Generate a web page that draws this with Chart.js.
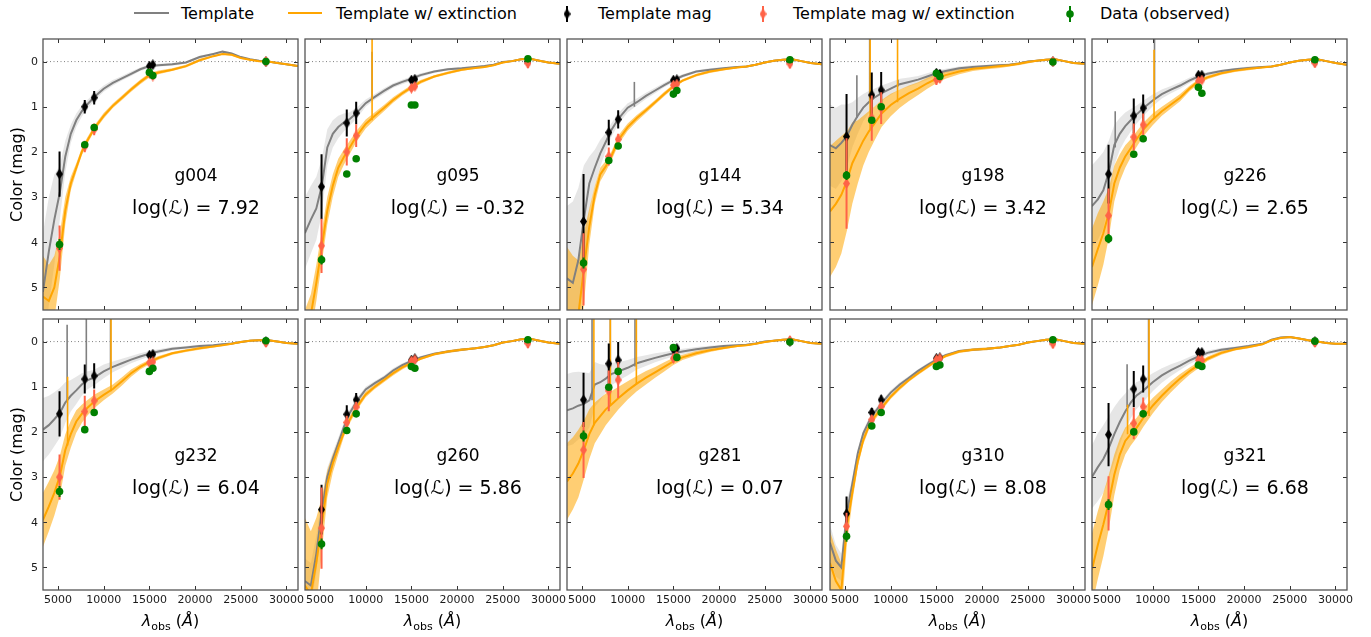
<!DOCTYPE html>
<html lang="en">
<head>
<meta charset="UTF-8">
<title>Template colour fits</title>
<script src="https://cdn.jsdelivr.net/npm/chart.js"></script>
<style>
  body { margin: 0; background: #fff; font-family: "DejaVu Sans", sans-serif; }
  #page { position: relative; width: 1371px; height: 637px; overflow: hidden; }
  #page canvas.panel { position: absolute; }
  .lg-line { position: absolute; top: 12px; height: 2px; }
  .lg-mark { position: absolute; top: 3px; width: 12px; height: 20px; }
  .lg-text { position: absolute; top: 13px; transform: translateY(-50%); font-size: 16px; color: #000; white-space: nowrap; }
</style>
</head>
<body>
<div id="page">
  <div class="lg-line" style="left:134px; width:35px; background:gray"></div>
  <span class="lg-text" style="left:181px">Template</span>
  <div class="lg-line" style="left:288px; width:34px; background:orange"></div>
  <span class="lg-text" style="left:336px">Template w/ extinction</span>
  <canvas class="lg-mark" id="lgBlack" width="12" height="20" style="left:561px"></canvas>
  <span class="lg-text" style="left:598px">Template mag</span>
  <canvas class="lg-mark" id="lgRed" width="12" height="20" style="left:757px"></canvas>
  <span class="lg-text" style="left:793px">Template mag w/ extinction</span>
  <canvas class="lg-mark" id="lgGreen" width="12" height="20" style="left:1064px"></canvas>
  <span class="lg-text" style="left:1100px">Data (observed)</span>
</div>

<script>
// ---- data ----
const NAMES = ['g004', 'g095', 'g144', 'g198', 'g226', 'g232', 'g260', 'g281', 'g310', 'g321'];
const LOG_L = [7.92, -0.32, 5.34, 3.42, 2.65, 6.04, 5.86, 0.07, 8.08, 6.68];

const X_MIN = 3360, X_MAX = 31260;
const Y_MIN = -0.5, Y_MAX = 5.5;
const X_TICKS = [5000, 10000, 15000, 20000, 25000, 30000];
const Y_TICKS = [0, 1, 2, 3, 4, 5];

// wavelength grid of the template spectra
const SPEC_WAVE = [3350, 4000, 4600, 5200, 5800, 6400, 7000, 7600, 8200, 9000, 10000, 11000, 12000, 13000, 14000,
                   15000, 16000, 17500, 19000, 20500, 22000, 23000, 24000, 25000, 26000, 27000, 28000, 29000, 30000, 31250];

const TEMPLATE_SPEC = [
  [5.1, 4.2, 3.5, 2.9, 2.1, 1.6, 1.3, 1.1, 0.95, 0.78, 0.6, 0.47, 0.37, 0.27, 0.17, 0.1, 0.08, 0.06, 0.02, -0.1, -0.17, -0.22, -0.18, -0.1, -0.05, -0.02, 0, 0.03, 0.06, 0.1],
  [3.8, 3.5, 3.25, 2.75, 1.9, 1.6, 1.45, 1.35, 1.28, 1.14, 0.92, 0.78, 0.65, 0.53, 0.45, 0.38, 0.3, 0.22, 0.17, 0.15, 0.12, 0.1, 0.07, 0.01, -0.01, -0.05, -0.06, -0.02, 0.02, 0.05],
  [4.8, 4.9, 4.4, 3.5, 2.7, 2.35, 2.03, 1.78, 1.52, 1.26, 1.02, 0.9, 0.76, 0.64, 0.52, 0.41, 0.32, 0.22, 0.18, 0.15, 0.12, 0.11, 0.07, 0.02, -0.02, -0.04, -0.05, -0.01, 0.03, 0.06],
  [1.85, 1.92, 1.8, 1.65, 1.4, 1.2, 1.02, 0.9, 0.8, 0.7, 0.6, 0.5, 0.45, 0.4, 0.33, 0.26, 0.21, 0.15, 0.12, 0.1, 0.08, 0.07, 0.04, 0.0, -0.02, -0.04, -0.05, -0.01, 0.03, 0.05],
  [3.2, 3.05, 2.85, 2.45, 1.85, 1.6, 1.43, 1.3, 1.18, 1.03, 0.86, 0.72, 0.62, 0.53, 0.42, 0.33, 0.27, 0.21, 0.17, 0.14, 0.12, 0.11, 0.07, 0.02, -0.02, -0.04, -0.05, -0.01, 0.03, 0.07],
  [1.95, 1.85, 1.72, 1.58, 1.35, 1.2, 1.08, 0.95, 0.86, 0.79, 0.66, 0.56, 0.48, 0.4, 0.33, 0.27, 0.22, 0.16, 0.13, 0.1, 0.08, 0.06, 0.04, 0.01, -0.02, -0.03, -0.03, 0.0, 0.03, 0.05],
  [5.3, 5.4, 4.7, 3.75, 3.0, 2.6, 2.25, 1.9, 1.6, 1.33, 1.06, 0.92, 0.8, 0.64, 0.52, 0.43, 0.35, 0.27, 0.22, 0.18, 0.15, 0.12, 0.08, 0.02, -0.01, -0.05, -0.06, -0.02, 0.02, 0.05],
  [1.52, 1.48, 1.42, 1.38, 1.3, 0.95, 0.9, 0.82, 0.72, 0.66, 0.58, 0.48, 0.42, 0.36, 0.31, 0.26, 0.22, 0.17, 0.13, 0.1, 0.08, 0.07, 0.04, 0.0, -0.02, -0.04, -0.05, -0.01, 0.03, 0.05],
  [4.45, 4.85, 5.0, 3.8, 3.15, 2.47, 2.03, 1.78, 1.58, 1.37, 1.13, 0.95, 0.8, 0.65, 0.52, 0.4, 0.3, 0.21, 0.18, 0.16, 0.13, 0.1, 0.07, 0.02, -0.01, -0.04, -0.05, -0.01, 0.03, 0.05],
  [3.0, 2.78, 2.6, 2.35, 2.05, 1.78, 1.55, 1.35, 1.2, 1.08, 0.9, 0.75, 0.63, 0.53, 0.42, 0.33, 0.25, 0.18, 0.14, 0.1, 0.05, -0.04, -0.09, -0.1, -0.07, -0.03, 0.0, 0.03, 0.05, 0.05]
];
// half width of the template uncertainty band
const TEMPLATE_BAND = [
  [1.3, 1.2, 1.0, 0.6, 0.35, 0.2, 0.15, 0.12, 0.1, 0.08, 0.07, 0.06, 0.05, 0.05, 0.04, 0.04, 0.03, 0.03, 0.03, 0.03, 0.02, 0.02, 0.02, 0.02, 0.02, 0.02, 0.02, 0.02, 0.02, 0.02],
  [0.8, 0.75, 0.7, 0.6, 0.4, 0.3, 0.25, 0.2, 0.15, 0.12, 0.08, 0.06, 0.06, 0.05, 0.05, 0.05, 0.04, 0.03, 0.03, 0.03, 0.02, 0.02, 0.02, 0.02, 0.02, 0.02, 0.02, 0.02, 0.02, 0.02],
  [1.6, 1.8, 1.6, 1.2, 0.6, 0.4, 0.3, 0.2, 0.15, 0.12, 0.1, 0.08, 0.07, 0.06, 0.05, 0.05, 0.04, 0.03, 0.03, 0.03, 0.02, 0.02, 0.02, 0.02, 0.02, 0.02, 0.02, 0.02, 0.02, 0.02],
  [0.9, 0.9, 0.85, 0.7, 0.5, 0.4, 0.3, 0.25, 0.2, 0.17, 0.14, 0.12, 0.1, 0.08, 0.07, 0.06, 0.05, 0.04, 0.04, 0.03, 0.03, 0.03, 0.02, 0.02, 0.02, 0.02, 0.02, 0.02, 0.02, 0.02],
  [0.9, 0.9, 0.85, 0.7, 0.45, 0.35, 0.3, 0.25, 0.2, 0.17, 0.13, 0.1, 0.08, 0.07, 0.06, 0.05, 0.04, 0.03, 0.03, 0.03, 0.02, 0.02, 0.02, 0.02, 0.02, 0.02, 0.02, 0.02, 0.02, 0.02],
  [0.7, 0.65, 0.6, 0.55, 0.45, 0.35, 0.3, 0.25, 0.2, 0.17, 0.15, 0.12, 0.1, 0.08, 0.07, 0.06, 0.05, 0.04, 0.03, 0.03, 0.02, 0.02, 0.02, 0.02, 0.02, 0.02, 0.02, 0.02, 0.02, 0.02],
  [0.5, 0.5, 0.4, 0.3, 0.2, 0.15, 0.12, 0.1, 0.08, 0.07, 0.06, 0.05, 0.05, 0.05, 0.04, 0.04, 0.03, 0.03, 0.03, 0.03, 0.02, 0.02, 0.02, 0.02, 0.02, 0.02, 0.02, 0.02, 0.02, 0.02],
  [0.8, 0.8, 0.75, 0.7, 0.6, 0.5, 0.4, 0.3, 0.25, 0.2, 0.17, 0.14, 0.12, 0.1, 0.08, 0.07, 0.06, 0.05, 0.04, 0.03, 0.02, 0.02, 0.02, 0.02, 0.02, 0.02, 0.02, 0.02, 0.02, 0.02],
  [0.4, 0.35, 0.3, 0.25, 0.15, 0.1, 0.08, 0.07, 0.06, 0.06, 0.05, 0.05, 0.04, 0.04, 0.04, 0.03, 0.03, 0.03, 0.03, 0.03, 0.02, 0.02, 0.02, 0.02, 0.02, 0.02, 0.02, 0.02, 0.02, 0.02],
  [0.7, 0.75, 0.75, 0.7, 0.6, 0.5, 0.4, 0.35, 0.3, 0.25, 0.2, 0.16, 0.13, 0.1, 0.08, 0.07, 0.05, 0.04, 0.03, 0.03, 0.02, 0.02, 0.02, 0.02, 0.02, 0.02, 0.02, 0.02, 0.02, 0.02]
];

const EXT_SPEC = [
  [5.2, 5.3, 5.0, 4.3, 3.3, 2.7, 2.35, 2.0, 1.75, 1.47, 1.2, 0.98, 0.8, 0.62, 0.45, 0.3, 0.24, 0.18, 0.1, -0.03, -0.12, -0.17, -0.15, -0.08, -0.04, -0.01, 0, 0.03, 0.06, 0.1],
  [6.0, 5.6, 4.9, 4.1, 3.3, 2.75, 2.35, 2.12, 1.92, 1.65, 1.38, 1.2, 1.03, 0.85, 0.7, 0.57, 0.45, 0.33, 0.25, 0.18, 0.14, 0.12, 0.08, 0.02, -0.01, -0.05, -0.06, -0.02, 0.02, 0.05],
  [5.6, 5.7, 5.6, 4.6, 3.65, 2.95, 2.5, 2.32, 2.1, 1.73, 1.45, 1.25, 1.08, 0.9, 0.72, 0.55, 0.42, 0.3, 0.22, 0.17, 0.13, 0.11, 0.07, 0.02, -0.02, -0.04, -0.05, -0.01, 0.03, 0.06],
  [3.32, 3.15, 2.95, 2.65, 2.25, 2.0, 1.75, 1.55, 1.38, 1.15, 0.96, 0.82, 0.7, 0.6, 0.48, 0.38, 0.3, 0.22, 0.16, 0.13, 0.1, 0.08, 0.05, 0.01, -0.02, -0.04, -0.05, -0.01, 0.03, 0.05],
  [4.55, 4.15, 3.8, 3.35, 2.7, 2.35, 2.1, 1.92, 1.73, 1.5, 1.28, 1.1, 0.95, 0.8, 0.6, 0.44, 0.35, 0.26, 0.2, 0.16, 0.13, 0.11, 0.07, 0.02, -0.02, -0.04, -0.05, -0.01, 0.03, 0.07],
  [3.95, 3.65, 3.35, 2.98, 2.4, 2.05, 1.77, 1.6, 1.47, 1.32, 1.18, 1.05, 0.88, 0.7, 0.56, 0.45, 0.36, 0.26, 0.2, 0.15, 0.11, 0.08, 0.05, 0.01, -0.02, -0.03, -0.03, 0.0, 0.03, 0.05],
  [5.4, 5.6, 4.9, 4.05, 3.15, 2.7, 2.35, 2.02, 1.75, 1.46, 1.17, 1.0, 0.85, 0.7, 0.57, 0.47, 0.38, 0.28, 0.22, 0.18, 0.15, 0.12, 0.08, 0.02, -0.01, -0.05, -0.06, -0.02, 0.02, 0.05],
  [3.1, 2.92, 2.7, 2.4, 2.05, 1.8, 1.65, 1.5, 1.4, 1.25, 1.08, 0.93, 0.8, 0.68, 0.56, 0.44, 0.35, 0.26, 0.19, 0.14, 0.1, 0.08, 0.05, 0.01, -0.02, -0.04, -0.05, -0.01, 0.03, 0.05],
  [4.9, 5.3, 5.5, 4.1, 3.35, 2.65, 2.18, 1.88, 1.68, 1.47, 1.22, 1.02, 0.85, 0.7, 0.56, 0.43, 0.32, 0.22, 0.18, 0.16, 0.13, 0.1, 0.07, 0.02, -0.01, -0.04, -0.05, -0.01, 0.03, 0.05],
  [5.05, 4.5, 4.05, 3.55, 2.95, 2.5, 2.2, 2.05, 1.92, 1.68, 1.42, 1.2, 1.0, 0.82, 0.66, 0.52, 0.38, 0.25, 0.17, 0.12, 0.06, -0.03, -0.08, -0.1, -0.07, -0.03, 0.0, 0.03, 0.05, 0.05]
];
const EXT_BAND = [
  [0.9, 0.8, 0.7, 0.5, 0.3, 0.15, 0.1, 0.08, 0.07, 0.06, 0.06, 0.05, 0.05, 0.05, 0.05, 0.05, 0.04, 0.03, 0.03, 0.03, 0.02, 0.02, 0.02, 0.02, 0.02, 0.02, 0.02, 0.02, 0.02, 0.02],
  [0.5, 0.45, 0.4, 0.35, 0.3, 0.25, 0.2, 0.17, 0.15, 0.12, 0.1, 0.08, 0.07, 0.06, 0.05, 0.05, 0.04, 0.03, 0.03, 0.03, 0.02, 0.02, 0.02, 0.02, 0.02, 0.02, 0.02, 0.02, 0.02, 0.02],
  [1.5, 1.4, 1.2, 0.8, 0.4, 0.2, 0.15, 0.12, 0.1, 0.1, 0.08, 0.07, 0.06, 0.05, 0.05, 0.04, 0.03, 0.03, 0.03, 0.03, 0.02, 0.02, 0.02, 0.02, 0.02, 0.02, 0.02, 0.02, 0.02, 0.02],
  [1.45, 1.4, 1.3, 1.1, 0.9, 0.7, 0.55, 0.45, 0.38, 0.3, 0.25, 0.2, 0.17, 0.14, 0.12, 0.1, 0.08, 0.06, 0.05, 0.04, 0.04, 0.03, 0.03, 0.03, 0.02, 0.02, 0.02, 0.02, 0.02, 0.02],
  [0.85, 0.8, 0.7, 0.55, 0.4, 0.3, 0.25, 0.2, 0.17, 0.15, 0.13, 0.1, 0.09, 0.08, 0.06, 0.05, 0.04, 0.03, 0.03, 0.03, 0.02, 0.02, 0.02, 0.02, 0.02, 0.02, 0.02, 0.02, 0.02, 0.02],
  [0.6, 0.55, 0.5, 0.45, 0.35, 0.3, 0.25, 0.2, 0.17, 0.15, 0.12, 0.1, 0.09, 0.08, 0.06, 0.05, 0.04, 0.03, 0.03, 0.03, 0.02, 0.02, 0.02, 0.02, 0.02, 0.02, 0.02, 0.02, 0.02, 0.02],
  [1.5, 1.4, 1.0, 0.6, 0.3, 0.2, 0.15, 0.1, 0.08, 0.07, 0.06, 0.05, 0.05, 0.05, 0.05, 0.04, 0.03, 0.03, 0.03, 0.03, 0.02, 0.02, 0.02, 0.02, 0.02, 0.02, 0.02, 0.02, 0.02, 0.02],
  [0.85, 0.8, 0.75, 0.65, 0.55, 0.45, 0.4, 0.35, 0.3, 0.25, 0.2, 0.17, 0.15, 0.12, 0.1, 0.08, 0.06, 0.05, 0.04, 0.03, 0.02, 0.02, 0.02, 0.02, 0.02, 0.02, 0.02, 0.02, 0.02, 0.02],
  [0.7, 0.7, 0.6, 0.4, 0.2, 0.12, 0.1, 0.08, 0.07, 0.06, 0.05, 0.05, 0.04, 0.04, 0.04, 0.03, 0.03, 0.03, 0.03, 0.03, 0.02, 0.02, 0.02, 0.02, 0.02, 0.02, 0.02, 0.02, 0.02, 0.02],
  [0.8, 0.75, 0.7, 0.6, 0.45, 0.35, 0.3, 0.25, 0.22, 0.2, 0.17, 0.14, 0.12, 0.1, 0.08, 0.07, 0.05, 0.04, 0.03, 0.03, 0.02, 0.02, 0.02, 0.02, 0.02, 0.02, 0.02, 0.02, 0.02, 0.02]
];

// emission lines: [wavelength, from mag, to mag]
const TEMPLATE_LINES = [
  [], [[10700, 0.85, -0.22]], [[10730, 1.0, 0.45]],
  [[6300, 1.25, 0.3], [7700, 0.9, -0.5], [10800, 0.55, 0.4]],
  [[5900, 1.9, 1.1], [10200, 0.82, -0.5]],
  [[6000, 1.3, -0.37], [8100, 0.9, -0.5], [10750, 0.6, -0.5]],
  [],
  [[6100, 1.3, -0.5], [8100, 0.72, -0.5], [10800, 0.55, -0.5]],
  [],
  [[7200, 1.45, 0.5], [9550, 1.0, -0.5]]
];
const EXT_LINES = [
  [], [[10700, 1.3, -0.5]], [],
  [[7750, 1.5, -0.5], [10750, 0.9, -0.5]],
  [[10150, 1.27, -0.26]],
  [[6050, 2.3, 0.78], [10800, 1.1, -0.5]],
  [],
  [[6300, 1.85, -0.5], [8100, 1.4, -0.5], [10950, 0.95, -0.5]],
  [],
  [[7250, 2.05, 1.4], [9600, 1.65, -0.5]]
];

// photometric bands
const FILTER_WAVE = [5170, 7930, 8960, 15000, 15380, 27750];

const TEMPLATE_MAG = [
  [2.49, 1.0, 0.8, 0.1, 0.07, 0], [2.77, 1.36, 1.14, 0.41, 0.39, 0], [3.54, 1.57, 1.28, 0.41, 0.4, 0],
  [1.66, 0.74, 0.63, 0.26, 0.28, 0], [2.49, 1.2, 1.03, 0.3, 0.3, 0], [1.6, 0.83, 0.76, 0.3, 0.28, 0],
  [3.72, 1.61, 1.29, 0.41, 0.38, 0], [1.29, 0.49, 0.41, 0.17, 0.15, 0], [3.81, 1.57, 1.29, 0.37, 0.36, 0],
  [2.06, 1.05, 0.83, 0.24, 0.24, 0]
];
const TEMPLATE_MAG_ERR = [
  [0.5, 0.15, 0.15, 0.07, 0.07, 0], [0.72, 0.3, 0.25, 0.05, 0.05, 0], [1.05, 0.28, 0.2, 0.05, 0.05, 0],
  [0.94, 0.5, 0.4, 0.1, 0.1, 0], [0.65, 0.38, 0.3, 0.06, 0.06, 0], [0.5, 0.32, 0.28, 0.06, 0.06, 0],
  [0.55, 0.2, 0.15, 0.05, 0.05, 0], [0.6, 0.45, 0.4, 0.05, 0.05, 0], [0.38, 0.1, 0.1, 0.04, 0.04, 0],
  [0.7, 0.4, 0.3, 0.07, 0.07, 0]
];
const EXT_MAG = [
  [4.13, 1.88, 1.5, 0.26, 0.32, 0], [4.08, 2.0, 1.64, 0.59, 0.55, 0.04], [4.6, 2.1, 1.72, 0.52, 0.5, 0.05],
  [2.7, 1.25, 1.03, 0.4, 0.37, 0], [3.41, 1.67, 1.4, 0.43, 0.41, 0.03], [3.0, 1.55, 1.31, 0.47, 0.45, 0.02],
  [4.13, 1.79, 1.45, 0.43, 0.4, 0.04], [2.4, 1.09, 0.85, 0.37, 0.33, -0.02], [4.09, 1.73, 1.44, 0.4, 0.37, 0.05],
  [3.58, 1.81, 1.44, 0.41, 0.41, 0.02]
];
const EXT_MAG_ERR = [
  [0.5, 0.13, 0.13, 0.07, 0.07, 0.1], [0.6, 0.3, 0.25, 0.05, 0.05, 0.1], [0.8, 0.2, 0.12, 0.05, 0.05, 0.1],
  [1.0, 0.5, 0.35, 0.12, 0.1, 0.1], [0.6, 0.3, 0.25, 0.06, 0.06, 0.1], [0.5, 0.35, 0.25, 0.06, 0.06, 0.1],
  [0.9, 0.15, 0.12, 0.06, 0.06, 0.1], [0.62, 0.45, 0.4, 0.1, 0.1, 0.1], [0.3, 0.1, 0.1, 0.04, 0.04, 0.1],
  [0.6, 0.35, 0.2, 0.06, 0.06, 0.1]
];
const OBS_MAG = [
  [4.05, 1.84, 1.46, 0.24, 0.31, 0], [4.39, 2.49, 2.15, 0.96, 0.96, -0.06], [4.46, 2.19, 1.87, 0.72, 0.64, -0.04],
  [2.52, 1.3, 1.0, 0.26, 0.33, 0.01], [3.92, 2.05, 1.71, 0.57, 0.7, -0.04], [3.32, 1.95, 1.57, 0.66, 0.59, -0.02],
  [4.48, 1.97, 1.6, 0.55, 0.59, -0.04], [2.09, 1.01, 0.66, 0.13, 0.35, 0.01], [4.31, 1.87, 1.57, 0.55, 0.52, -0.04],
  [3.61, 2.0, 1.6, 0.52, 0.55, -0.01]
];
const OBS_MAG_ERR = [
  [0.12, 0.05, 0.05, 0.03, 0.03, 0.05], [0.1, 0.04, 0.04, 0.03, 0.03, 0.05], [0.12, 0.05, 0.05, 0.03, 0.03, 0.05],
  [0.1, 0.05, 0.05, 0.03, 0.03, 0.05], [0.1, 0.04, 0.04, 0.03, 0.03, 0.05], [0.12, 0.05, 0.05, 0.03, 0.03, 0.05],
  [0.12, 0.05, 0.05, 0.03, 0.03, 0.05], [0.12, 0.05, 0.05, 0.03, 0.03, 0.05], [0.12, 0.05, 0.05, 0.03, 0.03, 0.05],
  [0.12, 0.05, 0.05, 0.03, 0.03, 0.05]
];

// ---- layout ----
const PANEL_LEFT = [43, 305, 567, 830, 1092];
const PANEL_TOP = [39, 319];
const PANEL_W = 255, PANEL_H = 271;
const PAD_L = 48, PAD_T = 8, PAD_R = 10, PAD_B = 46;
const FONT = '"DejaVu Sans"';

const GRAY = '#808080', ORANGE = '#ffa500', RED = 'tomato', GREEN = '#008000';

Chart.defaults.font.family = FONT;

function diamond(color) {
  const c = document.createElement('canvas');
  c.width = 7; c.height = 11;
  const g = c.getContext('2d');
  g.fillStyle = color;
  g.beginPath();
  g.moveTo(3.5, 0); g.lineTo(7, 5.5); g.lineTo(3.5, 11); g.lineTo(0, 5.5);
  g.closePath(); g.fill();
  return c;
}
const BLACK_DIAMOND = diamond('#000');
const RED_DIAMOND = diamond(RED);

// legend symbols
function legendMark(id, color, shape) {
  const g = document.getElementById(id).getContext('2d');
  g.strokeStyle = color; g.lineWidth = 2;
  g.beginPath(); g.moveTo(6, 3); g.lineTo(6, 19); g.stroke();
  if (shape) g.drawImage(shape, 2.5, 5.5);
  else { g.fillStyle = color; g.beginPath(); g.arc(6, 11, 3.8, 0, Math.PI * 2); g.fill(); }
}
legendMark('lgBlack', '#000', BLACK_DIAMOND);
legendMark('lgRed', RED, RED_DIAMOND);
legendMark('lgGreen', GREEN, null);

const curve = (ys, hw, s) => SPEC_WAVE.map((w, k) => ({ x: w, y: ys[k] + s * (hw ? hw[k] : 0) }));
const segments = list => list.flatMap(([w, a, b]) => [{ x: w, y: a }, { x: w, y: b }, { x: w, y: null }]);
const errorBars = (m, e) => FILTER_WAVE.flatMap((w, k) => [{ x: w, y: m[k] - e[k] }, { x: w, y: m[k] + e[k] }, { x: w, y: null }]);
const points = m => FILTER_WAVE.map((w, k) => ({ x: w, y: m[k] }));

const base = { pointRadius: 0, tension: 0, spanGaps: false, fill: false };

// frame, inward ticks on all four sides, tick labels on the outer panels
const framePlugin = {
  id: 'frame',
  afterDatasetsDraw(chart, args, o) {
    const { ctx, chartArea: a, scales: { x, y } } = chart;
    ctx.save();
    ctx.strokeStyle = '#333';
    ctx.lineWidth = 1;
    ctx.beginPath();
    X_TICKS.forEach(v => {
      const px = Math.round(x.getPixelForValue(v)) + 0.5;
      ctx.moveTo(px, a.bottom); ctx.lineTo(px, a.bottom - 4);
      ctx.moveTo(px, a.top); ctx.lineTo(px, a.top + 4);
    });
    Y_TICKS.forEach(v => {
      const py = Math.round(y.getPixelForValue(v)) + 0.5;
      ctx.moveTo(a.left, py); ctx.lineTo(a.left + 4, py);
      ctx.moveTo(a.right, py); ctx.lineTo(a.right - 4, py);
    });
    ctx.stroke();
    ctx.strokeStyle = '#555';
    ctx.lineWidth = 1.3;
    ctx.strokeRect(a.left, a.top, a.right - a.left, a.bottom - a.top);

    ctx.fillStyle = '#1a1a1a';
    ctx.font = '11px ' + FONT;
    if (o.xLabels) {
      ctx.textAlign = 'center';
      ctx.textBaseline = 'top';
      X_TICKS.forEach(v => ctx.fillText(String(v), x.getPixelForValue(v), a.bottom + 5));
    }
    if (o.yLabels) {
      ctx.textAlign = 'right';
      ctx.textBaseline = 'middle';
      Y_TICKS.forEach(v => ctx.fillText(String(v), a.left - 5, y.getPixelForValue(v) + 0.5));
    }
    ctx.restore();
  }
};

// panel name, likelihood and axis titles
const textPlugin = {
  id: 'panelText',
  afterDraw(chart, args, o) {
    const { ctx, chartArea: a } = chart;
    const w = a.right - a.left, h = a.bottom - a.top;
    const cx = a.left + 0.6 * w;
    ctx.save();
    ctx.fillStyle = '#000';
    ctx.textAlign = 'center';
    ctx.textBaseline = 'middle';
    ctx.font = '17px ' + FONT;
    ctx.fillText(o.name, cx, a.top + 0.508 * h);
    ctx.font = '19px ' + FONT;
    ctx.fillText('log(\u2112) = ' + o.logL.toFixed(2), cx, a.top + 0.627 * h);

    if (o.yTitle) {
      ctx.save();
      ctx.translate(a.left - 25, a.top + h / 2);
      ctx.rotate(-Math.PI / 2);
      ctx.font = '16px ' + FONT;
      ctx.fillText('Color (mag)', 0, 0);
      ctx.restore();
    }
    if (o.xTitle) {
      const parts = [
        ['\u03bb', 'italic 16px ' + FONT, 0],
        ['obs', '11px ' + FONT, 4],
        [' (', '16px ' + FONT, 0],
        ['\u00c5', 'italic 16px ' + FONT, 0],
        [')', '16px ' + FONT, 0]
      ];
      let total = 0;
      parts.forEach(p => { ctx.font = p[1]; p.push(ctx.measureText(p[0]).width); total += p[3]; });
      let px = a.left + w / 2 - total / 2;
      const baseY = a.bottom + 36;
      ctx.textAlign = 'left';
      ctx.textBaseline = 'alphabetic';
      parts.forEach(p => { ctx.font = p[1]; ctx.fillText(p[0], px, baseY + p[2]); px += p[3]; });
    }
    ctx.restore();
  }
};

const page = document.getElementById('page');

NAMES.forEach((name, i) => {
  const col = i % 5, row = Math.floor(i / 5);
  const canvas = document.createElement('canvas');
  canvas.className = 'panel';
  canvas.width = PAD_L + PANEL_W + PAD_R;
  canvas.height = PAD_T + PANEL_H + PAD_B;
  canvas.style.left = (PANEL_LEFT[col] - PAD_L) + 'px';
  canvas.style.top = (PANEL_TOP[row] - PAD_T) + 'px';
  page.appendChild(canvas);

  const datasets = [
    { ...base, data: curve(TEMPLATE_SPEC[i], TEMPLATE_BAND[i], -1), borderWidth: 0, order: 20 },
    { ...base, data: curve(TEMPLATE_SPEC[i], TEMPLATE_BAND[i], 1), borderWidth: 0, order: 20,
      fill: '-1', backgroundColor: 'rgba(200,200,200,0.45)' },
    { ...base, data: curve(EXT_SPEC[i], EXT_BAND[i], -1), borderWidth: 0, order: 18 },
    { ...base, data: curve(EXT_SPEC[i], EXT_BAND[i], 1), borderWidth: 0, order: 18,
      fill: '-1', backgroundColor: 'rgba(255,165,0,0.55)' },
    { ...base, data: [{ x: X_MIN, y: 0 }, { x: X_MAX, y: 0 }], borderColor: GRAY, borderWidth: 1,
      borderDash: [1, 2.5], order: 16 },
    { ...base, data: curve(TEMPLATE_SPEC[i], null, 0), borderColor: GRAY, borderWidth: 2, order: 14 },
    { ...base, data: segments(TEMPLATE_LINES[i]), borderColor: GRAY, borderWidth: 1.6, order: 14 },
    { ...base, data: curve(EXT_SPEC[i], null, 0), borderColor: ORANGE, borderWidth: 2, order: 12 },
    { ...base, data: segments(EXT_LINES[i]), borderColor: ORANGE, borderWidth: 1.6, order: 12 },
    { ...base, data: errorBars(TEMPLATE_MAG[i], TEMPLATE_MAG_ERR[i]), borderColor: '#000', borderWidth: 2, order: 10 },
    { ...base, data: points(TEMPLATE_MAG[i]), showLine: false, pointRadius: 5, pointStyle: BLACK_DIAMOND, order: 9 },
    { ...base, data: errorBars(EXT_MAG[i], EXT_MAG_ERR[i]), borderColor: RED, borderWidth: 2, order: 8 },
    { ...base, data: points(EXT_MAG[i]), showLine: false, pointRadius: 5, pointStyle: RED_DIAMOND, order: 7 },
    { ...base, data: errorBars(OBS_MAG[i], OBS_MAG_ERR[i]), borderColor: GREEN, borderWidth: 2, order: 6 },
    { ...base, data: points(OBS_MAG[i]), showLine: false, pointRadius: 3.8, pointStyle: 'circle',
      pointBackgroundColor: GREEN, pointBorderWidth: 0, order: 5 }
  ];

  new Chart(canvas, {
    type: 'line',
    data: { datasets },
    options: {
      responsive: false,
      animation: false,
      devicePixelRatio: 1,
      events: [],
      layout: { padding: { top: PAD_T, right: PAD_R, left: 0, bottom: 0 } },
      plugins: {
        legend: { display: false },
        tooltip: { enabled: false },
        frame: { xLabels: row === 1, yLabels: col === 0 },
        panelText: { name, logL: LOG_L[i], yTitle: col === 0, xTitle: row === 1 }
      },
      scales: {
        x: {
          type: 'linear', min: X_MIN, max: X_MAX,
          grid: { display: false, drawTicks: false }, border: { display: false },
          afterBuildTicks: s => { s.ticks = X_TICKS.map(v => ({ value: v })); },
          afterFit: s => { s.height = PAD_B; },
          ticks: { display: false }
        },
        y: {
          type: 'linear', reverse: true, min: Y_MIN, max: Y_MAX,
          grid: { display: false, drawTicks: false }, border: { display: false },
          afterBuildTicks: s => { s.ticks = Y_TICKS.map(v => ({ value: v })); },
          afterFit: s => { s.width = PAD_L; },
          ticks: { display: false }
        }
      }
    },
    plugins: [framePlugin, textPlugin]
  });
});
</script>
</body>
</html>
